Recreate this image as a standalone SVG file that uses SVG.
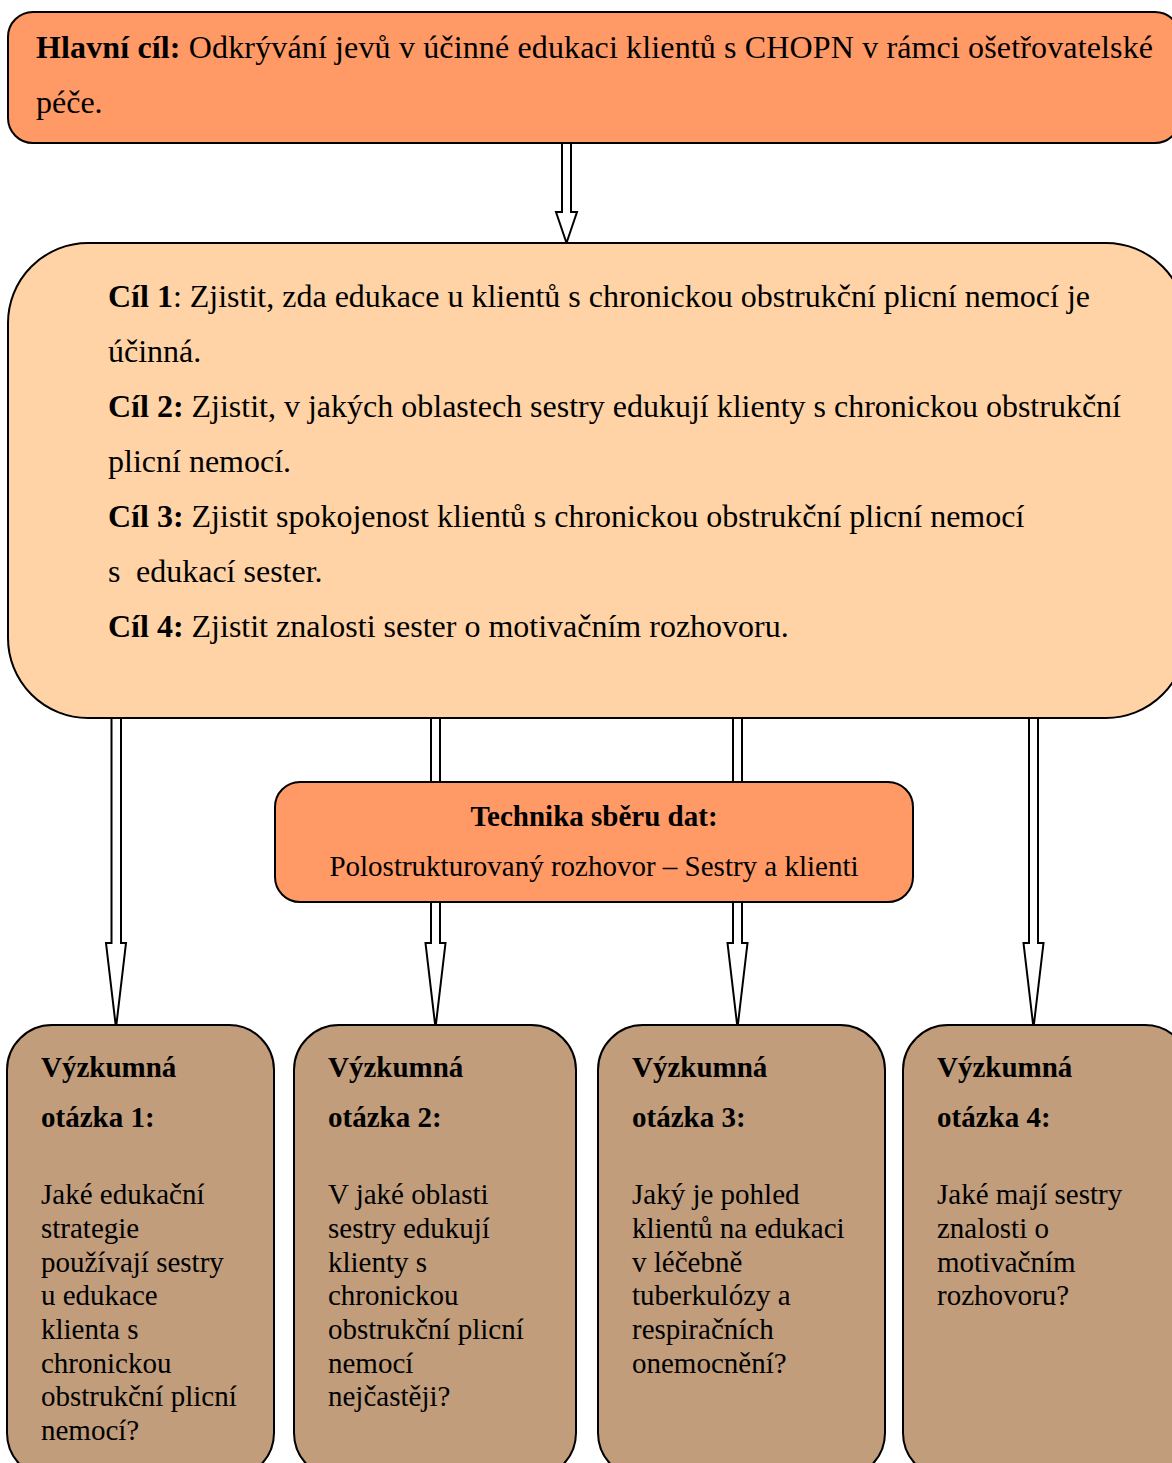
<svg xmlns="http://www.w3.org/2000/svg" width="1172" height="1463" viewBox="0 0 1172 1463">
<style>
  text { font-family: "Liberation Serif", serif; font-size: 29px; fill: #000; }
  .lg { font-size: 32px; }
  .b { font-weight: bold; }
  .box { stroke: #000; stroke-width: 2; }
  .main { fill: #FF9966; }
  .goals { fill: #FFD3A6; }
  .q { fill: #C19D7C; }
  .arrow { fill: #fff; stroke: #000; stroke-width: 2; stroke-linejoin: miter; }
</style>
<rect width="1172" height="1463" fill="#fff"/>

<g id="connectors">
  <polygon class="arrow" points="562,143 571,143 571,212 577,212 566.5,243 556,212 562,212"/>
  <polygon class="arrow" points="111.5,718 121,718 121,943 126,943 116,1028 106,943 111.5,943"/>
  <polygon class="arrow" points="431,718 440,718 440,943 445.5,943 435.5,1028 425.5,943 431,943"/>
  <polygon class="arrow" points="733,718 742,718 742,943 747.5,943 737.5,1028 727.5,943 733,943"/>
  <polygon class="arrow" points="1029,718 1038,718 1038,943 1043.5,943 1033.5,1028 1023.5,943 1029,943"/>
</g>

<g id="main-goal">
  <rect class="box main" x="8" y="12" width="1172" height="131" rx="25" ry="25"/>
  <text class="lg" x="36" y="58" textLength="1117" lengthAdjust="spacing"><tspan class="b">Hlavní cíl:</tspan> Odkrývání jevů v účinné edukaci klientů s CHOPN v rámci ošetřovatelské</text>
  <text class="lg" x="36" y="113">péče.</text>
</g>

<g id="goals">
  <rect class="box goals" x="8" y="243" width="1178" height="475" rx="80" ry="80"/>
  <text class="lg" x="108" y="307" textLength="982" lengthAdjust="spacing"><tspan class="b">Cíl 1</tspan>: Zjistit, zda edukace u klientů s chronickou obstrukční plicní nemocí je</text>
  <text class="lg" x="108" y="362">účinná.</text>
  <text class="lg" x="108" y="417" textLength="1013" lengthAdjust="spacing"><tspan class="b">Cíl 2:</tspan> Zjistit, v jakých oblastech sestry edukují klienty s chronickou obstrukční</text>
  <text class="lg" x="108" y="472">plicní nemocí.</text>
  <text class="lg" x="108" y="527"><tspan class="b">Cíl 3:</tspan> Zjistit spokojenost klientů s chronickou obstrukční plicní nemocí</text>
  <text class="lg" x="108" y="582">s<tspan x="136">edukací sester.</tspan></text>
  <text class="lg" x="108" y="637"><tspan class="b">Cíl 4:</tspan> Zjistit znalosti sester o motivačním rozhovoru.</text>
</g>

<g id="technika">
  <rect class="box main" x="275" y="782" width="638" height="120" rx="25" ry="25"/>
  <text class="b" x="594" y="826" text-anchor="middle">Technika sběru dat:</text>
  <text x="594" y="876" text-anchor="middle">Polostrukturovaný rozhovor – Sestry a klienti</text>
</g>

<g id="q1">
  <rect class="box q" x="7" y="1025" width="267" height="453" rx="45" ry="45"/>
  <text class="b" x="41" y="1077">Výzkumná</text>
  <text class="b" x="41" y="1127">otázka 1:</text>
  <text x="41" y="1204">Jaké edukační</text>
  <text x="41" y="1238">strategie</text>
  <text x="41" y="1272">používají sestry</text>
  <text x="41" y="1305">u edukace</text>
  <text x="41" y="1339">klienta s</text>
  <text x="41" y="1373">chronickou</text>
  <text x="41" y="1406">obstrukční plicní</text>
  <text x="41" y="1440">nemocí?</text>
</g>

<g id="q2">
  <rect class="box q" x="294" y="1025" width="282" height="453" rx="45" ry="45"/>
  <text class="b" x="328" y="1077">Výzkumná</text>
  <text class="b" x="328" y="1127">otázka 2:</text>
  <text x="328" y="1204">V jaké oblasti</text>
  <text x="328" y="1238">sestry edukují</text>
  <text x="328" y="1272">klienty s</text>
  <text x="328" y="1305">chronickou</text>
  <text x="328" y="1339">obstrukční plicní</text>
  <text x="328" y="1373">nemocí</text>
  <text x="328" y="1406">nejčastěji?</text>
</g>

<g id="q3">
  <rect class="box q" x="598" y="1025" width="287" height="453" rx="45" ry="45"/>
  <text class="b" x="632" y="1077">Výzkumná</text>
  <text class="b" x="632" y="1127">otázka 3:</text>
  <text x="632" y="1204">Jaký je pohled</text>
  <text x="632" y="1238">klientů na edukaci</text>
  <text x="632" y="1272">v léčebně</text>
  <text x="632" y="1305">tuberkulózy a</text>
  <text x="632" y="1339">respiračních</text>
  <text x="632" y="1373">onemocnění?</text>
</g>

<g id="q4">
  <rect class="box q" x="903" y="1025" width="287" height="453" rx="45" ry="45"/>
  <text class="b" x="937" y="1077">Výzkumná</text>
  <text class="b" x="937" y="1127">otázka 4:</text>
  <text x="937" y="1204">Jaké mají sestry</text>
  <text x="937" y="1238">znalosti o</text>
  <text x="937" y="1272">motivačním</text>
  <text x="937" y="1305">rozhovoru?</text>
</g>
</svg>
